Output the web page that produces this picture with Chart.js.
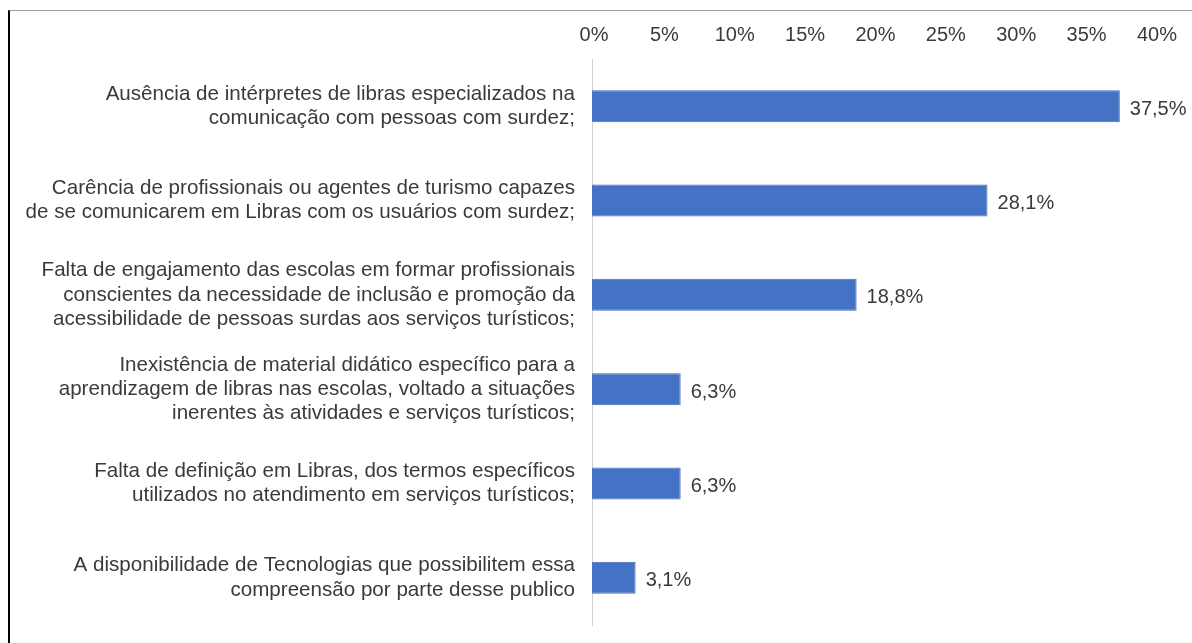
<!DOCTYPE html>
<html>
<head>
<meta charset="utf-8">
<script src="https://cdn.jsdelivr.net/npm/chart.js@4"></script>
<style>
  html, body { margin: 0; padding: 0; background: #fff; }
  #frame {
    position: absolute; left: 8px; top: 10px;
    width: 1182px; height: 633px;
    border-left: 2px solid #000; border-top: 1px solid #9a9a9a;
  }
  #chart { display: block; }
</style>
</head>
<body>
<div id="frame"><canvas id="chart" width="1182" height="632"></canvas></div>
<script>
// categories (one array per label, one entry per line)
const categories = [
    ["Ausência de intérpretes de libras especializados na", "comunicação com pessoas com surdez;"],
    ["Carência de profissionais ou agentes de turismo capazes", "de se comunicarem em Libras com os usuários com surdez;"],
    ["Falta de engajamento das escolas em formar profissionais", "conscientes da necessidade de inclusão e promoção da", "acessibilidade de pessoas surdas aos serviços turísticos;"],
    ["Inexistência de material didático específico para a", "aprendizagem de libras nas escolas, voltado a situações", "inerentes às atividades e serviços turísticos;"],
    ["Falta de definição em Libras, dos termos específicos", "utilizados no atendimento em serviços turísticos;"],
    ["A disponibilidade de Tecnologias que possibilitem essa", "compreensão por parte desse publico"]
];
const values = [37.5, 28.1, 18.8, 6.3, 6.3, 3.1];
const valueLabels = ["37,5%", "28,1%", "18,8%", "6,3%", "6,3%", "3,1%"];
const tickLabels = ["0%", "5%", "10%", "15%", "20%", "25%", "30%", "35%", "40%"];

const textColor = "#3a3a3a";
const fontFamily = "'Liberation Sans', Arial, sans-serif";

// draws the value next to each bar end
const barValues = {
    id: "barValues",
    afterDatasetsDraw(chart) {
        const c = chart.ctx;
        const meta = chart.getDatasetMeta(0);
        c.save();
        c.font = "20px " + fontFamily;
        c.fillStyle = textColor;
        c.textAlign = "left";
        c.textBaseline = "middle";
        meta.data.forEach((bar, i) => {
            c.fillText(valueLabels[i], bar.x + 10, bar.y + 3);
        });
        c.restore();
    }
};

new Chart(document.getElementById("chart"), {
    type: "bar",
    data: {
        labels: categories,
        datasets: [{
            data: values,
            backgroundColor: "#4472C4",
            borderColor: "#3f6bbb",
            borderWidth: 1,
            categoryPercentage: 1,
            barPercentage: 0.34
        }]
    },
    options: {
        indexAxis: "y",
        responsive: false,
        animation: false,
        layout: { padding: { left: 0, right: 37, top: 0, bottom: 18 } },
        plugins: { legend: { display: false }, tooltip: { enabled: false } },
        scales: {
            x: {
                position: "top",
                min: 0, max: 40,
                afterFit: (s) => { s.height = 48; s.paddingLeft = 0; s.paddingRight = 0; },
                afterBuildTicks: (s) => { s.ticks = tickLabels.map((_, i) => ({ value: i * 5 })); },
                ticks: {
                    stepSize: 5,
                    padding: 12,
                    labelOffset: 2,
                    color: textColor,
                    font: { size: 20, family: fontFamily },
                    callback: (v, i) => tickLabels[i]
                },
                grid: { display: false, drawTicks: false },
                border: { display: false }
            },
            y: {
                afterFit: (s) => { s.width = 582; s.paddingTop = 0; s.paddingBottom = 0; },
                ticks: {
                    padding: 17,
                    color: textColor,
                    font: { size: 20.6, family: fontFamily, lineHeight: 1.18 }
                },
                grid: { display: false, drawTicks: false },
                border: { display: true, color: "#d0d0d0", width: 1 }
            }
        }
    },
    plugins: [barValues]
});
</script>
</body>
</html>
